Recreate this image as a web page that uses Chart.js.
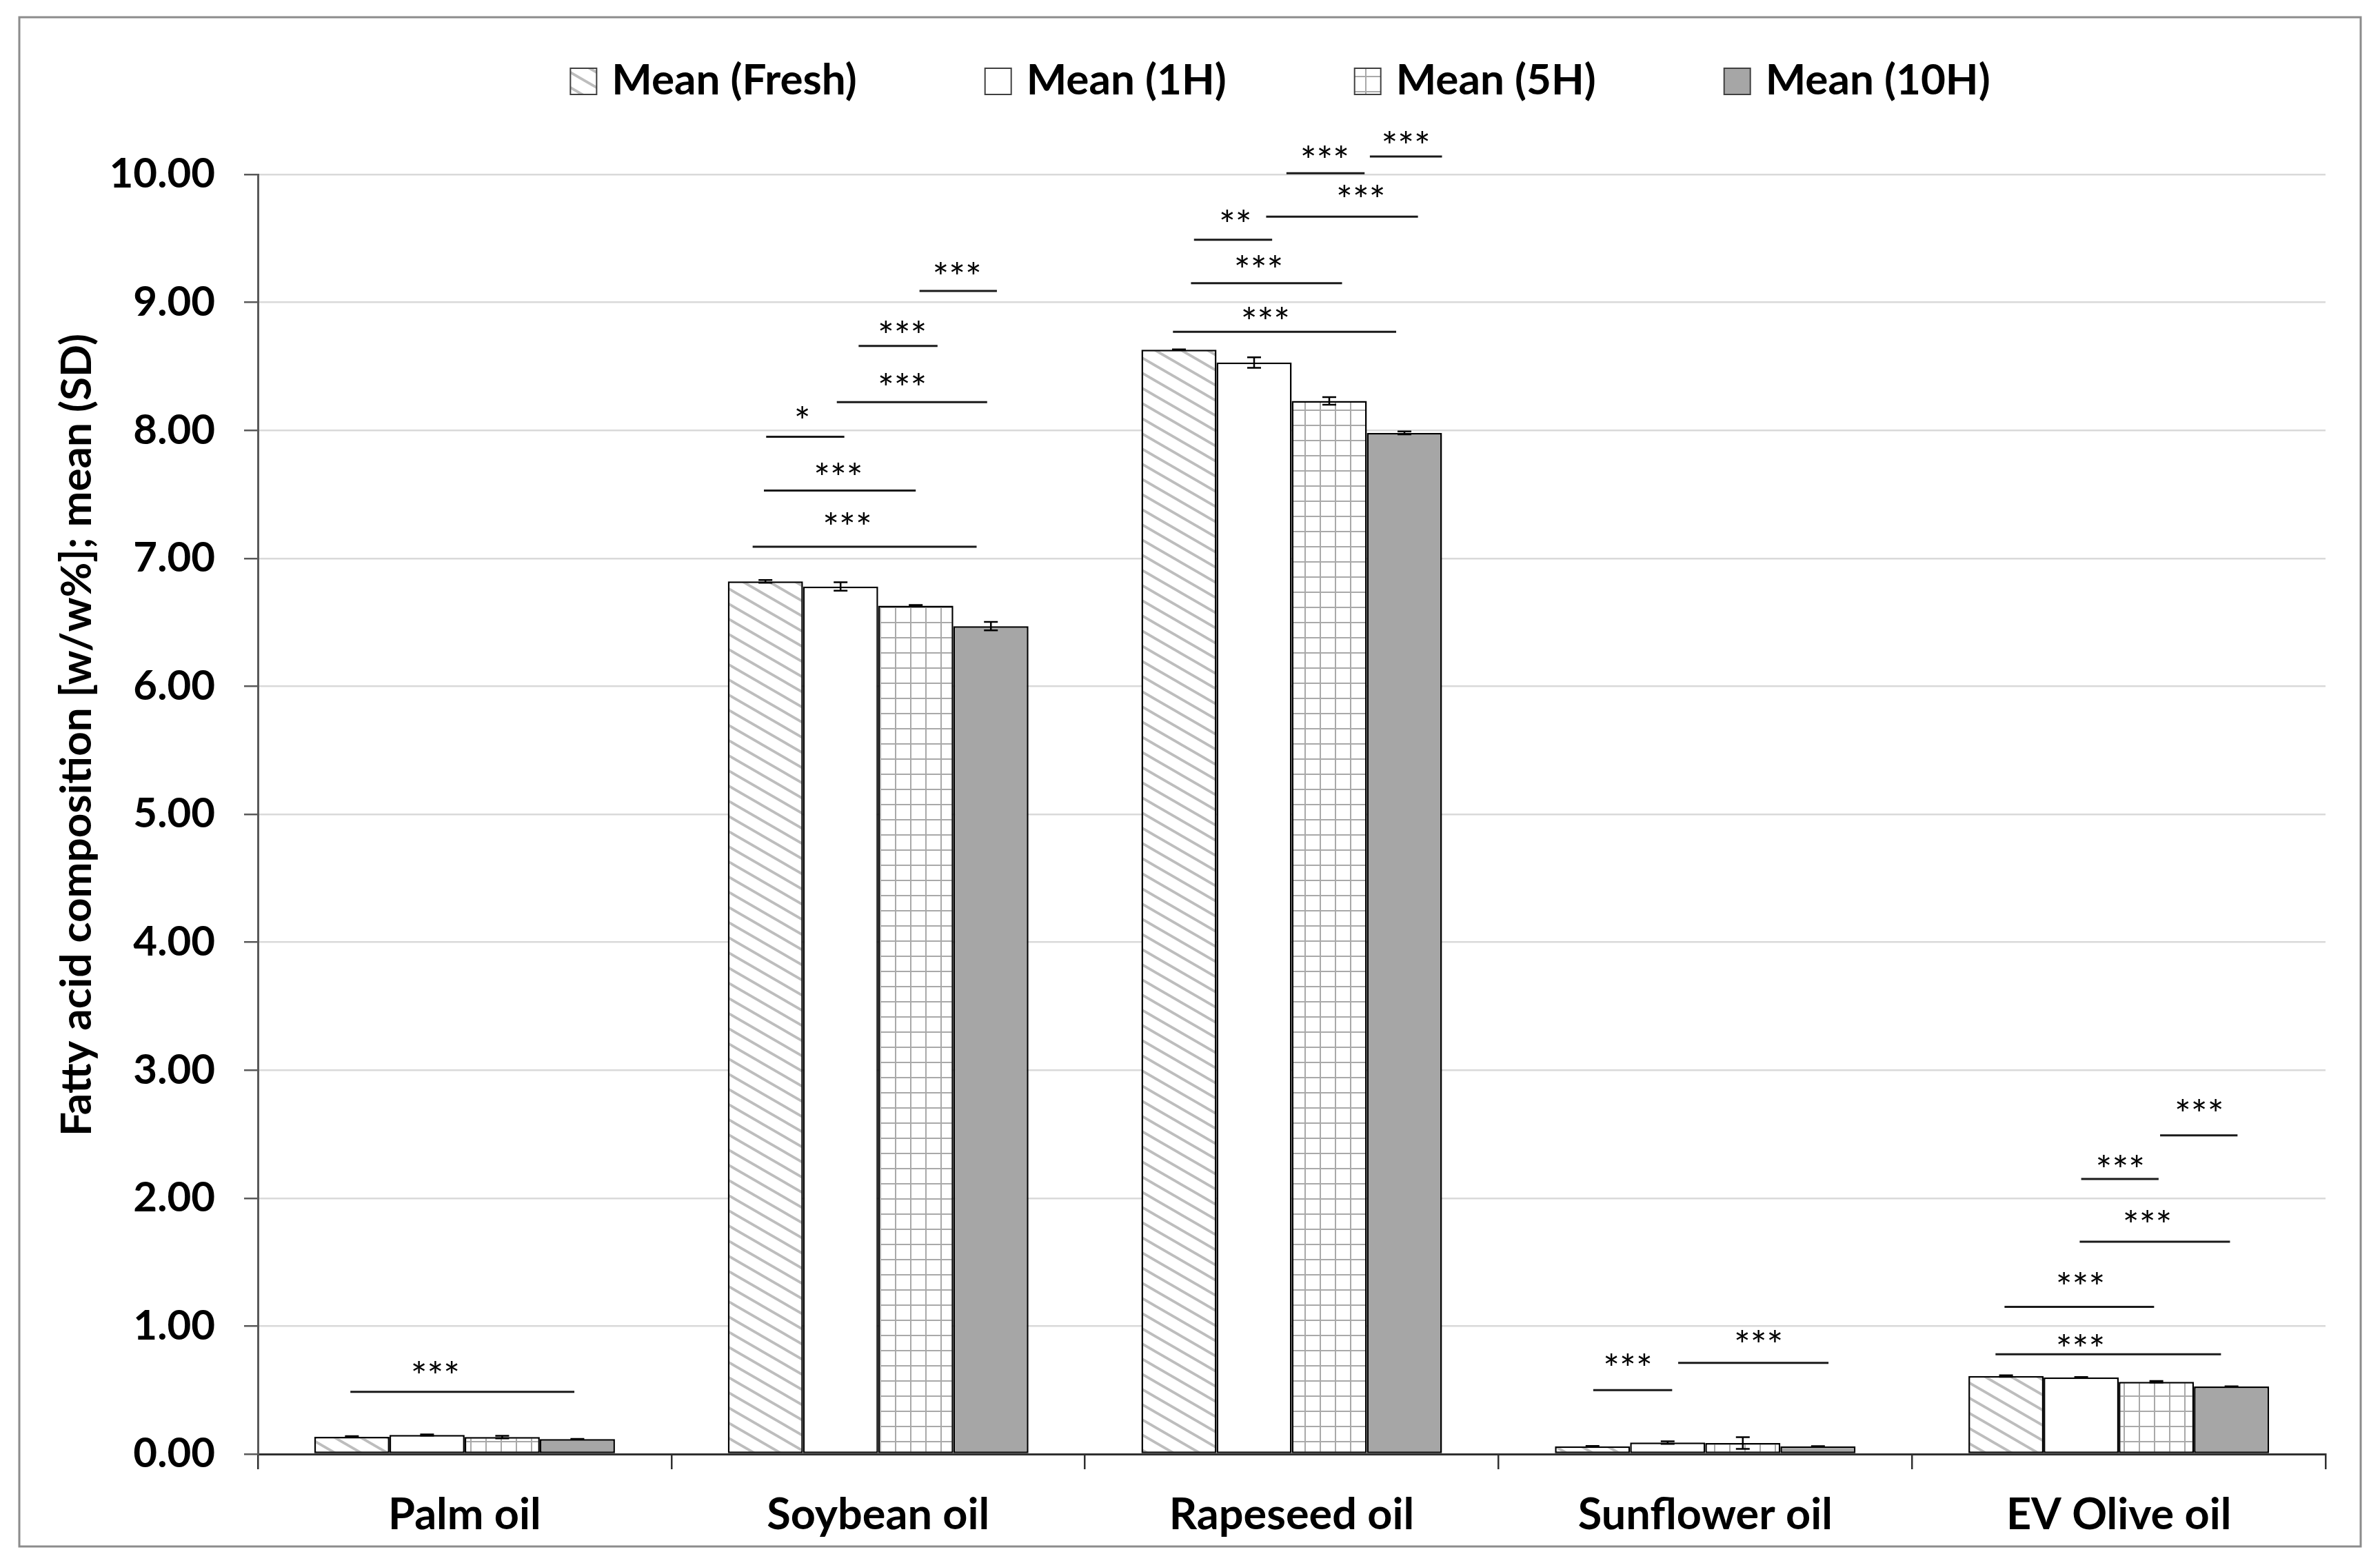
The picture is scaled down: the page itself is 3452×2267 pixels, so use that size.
<!DOCTYPE html>
<html lang="en">
  <head>
    <meta charset="UTF-8" />
    <title>Fatty acid composition</title>
    <script src="https://cdn.jsdelivr.net/npm/chart.js"></script>
    <style>
      html,
      body {
        margin: 0;
        padding: 0;
        background: #fff;
      }
      .chart-box {
        width: 3452px;
        height: 2267px;
      }
    </style>
  </head>
  <body>
    <div class="chart-box">
      <canvas id="myChart"></canvas>
    </div>

    <script>
      const oils = ["Palm oil", "Soybean oil", "Rapeseed oil", "Sunflower oil", "EV Olive oil"];
      const seriesNames = ["Mean (Fresh)", "Mean (1H)", "Mean (5H)", "Mean (10H)"];

      const meanFresh = [0.135, 6.82, 8.63, 0.06, 0.61];
      const mean1H = [0.149, 6.78, 8.53, 0.09, 0.6];
      const mean5H = [0.133, 6.63, 8.23, 0.086, 0.565];
      const mean10H = [0.117, 6.47, 7.98, 0.06, 0.528];

      const sdFresh = [0.005, 0.011, 0.003, 0.003, 0.006];
      const sd1H = [0.005, 0.033, 0.041, 0.01, 0.002];
      const sd5H = [0.01, 0.005, 0.03, 0.046, 0.006];
      const sd10H = [0.002, 0.033, 0.011, 0.002, 0.002];

      const yTicks = [0, 1, 2, 3, 4, 5, 6, 7, 8, 9, 10];

      // significance lines: [oil, from, to (bar widths from group centre), height, label, label x, label height]
      const sigLines = [
        [0, -1.52, 1.46, 0.486, "***", -0.39, 0.67],
        [1, -1.67, 1.31, 7.09, "***", -0.41, 7.3],
        [1, -1.52, 0.5, 7.53, "***", -0.53, 7.69],
        [1, -1.49, -0.45, 7.95, "*", -1.01, 8.13],
        [1, -0.55, 1.45, 8.22, "***", 0.32, 8.39],
        [1, -0.26, 0.79, 8.66, "***", 0.32, 8.8],
        [1, 0.55, 1.58, 9.09, "***", 1.05, 9.26],
        [2, -1.58, 1.39, 8.77, "***", -0.35, 8.91],
        [2, -1.34, 0.67, 9.15, "***", -0.44, 9.31],
        [2, -1.3, -0.26, 9.49, "**", -0.75, 9.67],
        [2, -0.34, 1.68, 9.67, "***", 0.92, 9.86],
        [2, -0.07, 0.97, 10.01, "***", 0.44, 10.17],
        [2, 1.04, 2.0, 10.14, "***", 1.52, 10.28],
        [3, -1.49, -0.44, 0.5, "***", -1.03, 0.73],
        [3, -0.36, 1.64, 0.713, "***", 0.71, 0.91],
        [4, -1.64, 1.36, 0.78, "***", -0.51, 0.88],
        [4, -1.52, 0.47, 1.15, "***", -0.51, 1.366],
        [4, -0.52, 1.48, 1.66, "***", 0.38, 1.85],
        [4, -0.5, 0.53, 2.15, "***", 0.02, 2.28],
        [4, 0.55, 1.58, 2.49, "***", 1.07, 2.72],
      ];

      const yTitle = "Fatty acid composition [w/w%]; mean (SD)";

      const means = [meanFresh, mean1H, mean5H, mean10H];
      const sds = [sdFresh, sd1H, sd5H, sd10H];

      function makeStripes() {
        const c = document.createElement("canvas");
        c.width = 38;
        c.height = 22;
        const g = c.getContext("2d");
        g.fillStyle = "#ffffff";
        g.fillRect(0, 0, 38, 22);
        g.strokeStyle = "#bdbdbd";
        g.lineWidth = 3.8;
        for (let k = -1; k <= 1; k++) {
          g.beginPath();
          g.moveTo(-38, k * 22 - 22);
          g.lineTo(76, k * 22 + 44);
          g.stroke();
        }
        return g.createPattern(c, "repeat");
      }

      function makeGrid() {
        const c = document.createElement("canvas");
        c.width = 22;
        c.height = 22;
        const g = c.getContext("2d");
        g.fillStyle = "#ffffff";
        g.fillRect(0, 0, 22, 22);
        g.fillStyle = "#a9a9a9";
        g.fillRect(0, 0, 2, 22);
        g.fillRect(0, 0, 22, 2);
        return g.createPattern(c, "repeat");
      }

      const fills = [makeStripes(), "#ffffff", makeGrid(), "#a6a6a6"];

      // grey frame round the whole figure
      const framePlugin = {
        id: "frame",
        beforeDraw(chart) {
          const ctx = chart.ctx;
          ctx.save();
          ctx.fillStyle = "#ffffff";
          ctx.fillRect(0, 0, chart.width, chart.height);
          ctx.strokeStyle = "#8c8c8c";
          ctx.lineWidth = 3;
          ctx.strokeRect(28, 25, 3396, 2218);
          ctx.restore();
        },
      };

      const errorBarPlugin = {
        id: "errorBars",
        afterDatasetsDraw(chart) {
          const ctx = chart.ctx;
          const y = chart.scales.y;
          ctx.save();
          ctx.strokeStyle = "#000";
          ctx.lineWidth = 2.5;
          chart.data.datasets.forEach((ds, i) => {
            chart.getDatasetMeta(i).data.forEach((bar, j) => {
              const top = y.getPixelForValue(means[i][j] + sds[i][j]);
              const bot = y.getPixelForValue(means[i][j] - sds[i][j]);
              ctx.beginPath();
              ctx.moveTo(bar.x, top);
              ctx.lineTo(bar.x, bot);
              ctx.moveTo(bar.x - 10, top);
              ctx.lineTo(bar.x + 10, top);
              ctx.moveTo(bar.x - 10, bot);
              ctx.lineTo(bar.x + 10, bot);
              ctx.stroke();
            });
          });
          ctx.restore();
        },
      };

      const sigPlugin = {
        id: "sigLines",
        afterDraw(chart) {
          const ctx = chart.ctx;
          const xs = chart.scales.x;
          const ys = chart.scales.y;
          const barW = chart.getDatasetMeta(0).data[0].width;
          ctx.save();
          ctx.strokeStyle = "#1a1a1a";
          ctx.lineWidth = 3;
          ctx.fillStyle = "#000";
          ctx.font = "56px Lato";
          ctx.textAlign = "center";
          ctx.textBaseline = "alphabetic";
          sigLines.forEach(([oil, from, to, h, label, tx, th]) => {
            const cx = xs.getPixelForValue(oil);
            const py = ys.getPixelForValue(h);
            ctx.beginPath();
            ctx.moveTo(cx + from * barW, py);
            ctx.lineTo(cx + to * barW, py);
            ctx.stroke();
            ctx.fillText(label, cx + tx * barW, ys.getPixelForValue(th) + 0.56 * 56);
          });
          ctx.restore();
        },
      };

      const legendPlugin = {
        id: "legendRow",
        afterDraw(chart) {
          const ctx = chart.ctx;
          const box = 38;
          const gap = 22;
          const itemGap = 186;
          ctx.save();
          ctx.font = "bold 62px Lato";
          ctx.textBaseline = "middle";
          ctx.textAlign = "left";
          const widths = seriesNames.map((s) => ctx.measureText(s).width);
          let total = widths.reduce((a, w) => a + box + gap + w, 0) + itemGap * (seriesNames.length - 1);
          let x = 1857 - total / 2;
          seriesNames.forEach((name, i) => {
            ctx.fillStyle = fills[i];
            ctx.fillRect(x, 99, box, box);
            ctx.strokeStyle = "#404040";
            ctx.lineWidth = 2;
            ctx.strokeRect(x, 99, box, box);
            ctx.fillStyle = "#000";
            ctx.fillText(name, x + box + gap, 117);
            x += box + gap + widths[i] + itemGap;
          });
          ctx.restore();
        },
      };

      const yTitlePlugin = {
        id: "yTitle",
        afterDraw(chart) {
          const ctx = chart.ctx;
          ctx.save();
          ctx.translate(112, 1066);
          ctx.rotate(-Math.PI / 2);
          ctx.font = "bold 62px Lato";
          ctx.fillStyle = "#000";
          ctx.textAlign = "center";
          ctx.textBaseline = "middle";
          ctx.fillText(yTitle, 0, 0);
          ctx.restore();
        },
      };

      let ctx = document.getElementById("myChart");

      let chart = new Chart(ctx, {
        type: "bar",
        data: {
          labels: oils,
          datasets: seriesNames.map((name, i) => ({
            label: name,
            data: means[i],
            backgroundColor: fills[i],
            borderColor: "#000000",
            borderWidth: 2.5,
            borderSkipped: false,
            categoryPercentage: 0.727,
            barPercentage: 1.0,
          })),
        },
        options: {
          responsive: true,
          maintainAspectRatio: false,
          devicePixelRatio: 1,
          animation: false,
          layout: {
            padding: { top: 253, right: 79, bottom: 0, left: 0 },
          },
          plugins: {
            legend: { display: false },
            tooltip: { enabled: false },
          },
          scales: {
            x: {
              afterFit(scale) {
                scale.height = 158;
              },
              grid: {
                offset: true,
                drawOnChartArea: false,
                tickLength: 22,
                tickColor: "#303030",
                lineWidth: 2.5,
              },
              border: { color: "#303030", width: 3 },
              ticks: {
                padding: 29,
                color: "#000",
                font: { family: "Lato", size: 63, weight: "bold" },
              },
            },
            y: {
              min: 0,
              max: 10,
              afterFit(scale) {
                scale.width = 374;
              },
              afterBuildTicks(scale) {
                scale.ticks = yTicks.map((v) => ({ value: v }));
              },
              grid: {
                color: "#d9d9d9",
                lineWidth: 2.5,
                tickLength: 20,
                tickColor: "#595959",
              },
              border: { color: "#595959", width: 3 },
              ticks: {
                padding: 42,
                color: "#000",
                font: { family: "Lato", size: 60, weight: "bold" },
                callback: (v) => Number(v).toFixed(2),
              },
            },
          },
        },
        plugins: [framePlugin, errorBarPlugin, sigPlugin, legendPlugin, yTitlePlugin],
      });
    </script>
  </body>
</html>
